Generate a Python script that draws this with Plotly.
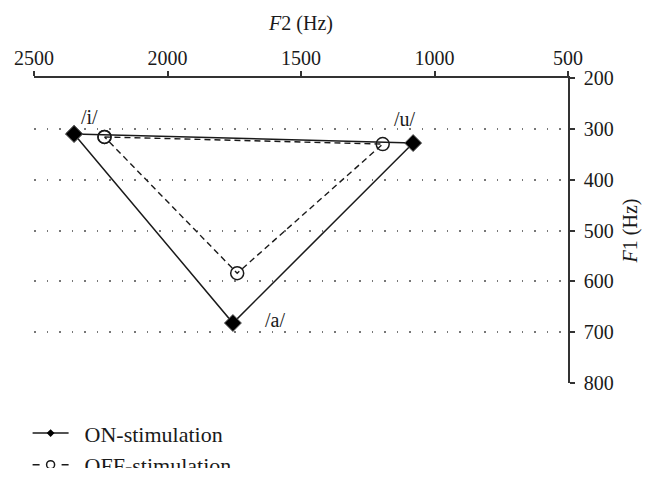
import plotly.graph_objects as go

# ---- data ----
vowels = ["/i/", "/u/", "/a/"]
on_f2 = [2350, 1080, 1755]
on_f1 = [310, 328, 682]
off_f2 = [2236, 1194, 1739]
off_f1 = [316, 330, 584]
x_ticks = [2500, 2000, 1500, 1000, 500]
y_ticks = [200, 300, 400, 500, 600, 700, 800]
series_names = ["ON-stimulation", "OFF-stimulation"]

FONT = "'Liberation Serif', 'Times New Roman', 'DejaVu Serif', serif"
INK = "#1a1a1a"

def closed(a):
    return list(a) + [a[0]]

fig = go.Figure()

fig.add_trace(go.Scatter(
    x=closed(off_f2), y=closed(off_f1), mode="lines+markers",
    line=dict(color=INK, width=1.4, dash="6px,4px"),
    marker=dict(symbol="circle-open", size=13, color=INK, line=dict(width=1.5, color=INK)),
    showlegend=False, hoverinfo="skip"))

fig.add_trace(go.Scatter(
    x=closed(on_f2), y=closed(on_f1), mode="lines+markers",
    line=dict(color=INK, width=1.5),
    marker=dict(symbol="diamond", size=13, color="#000", line=dict(width=1, color="#555")),
    showlegend=False, hoverinfo="skip"))

# legend-only entries (smaller symbols as in the reference)
PAD = "&nbsp;&nbsp;"
fig.add_trace(go.Scatter(
    x=[None], y=[None], mode="lines+markers", name=PAD + series_names[0],
    line=dict(color=INK, width=1.5),
    marker=dict(symbol="diamond", size=6, color="#000")))
fig.add_trace(go.Scatter(
    x=[None], y=[None], mode="lines+markers", name=PAD + series_names[1],
    line=dict(color=INK, width=1.5, dash="7px,22px"),
    marker=dict(symbol="circle-open", size=8, color=INK, line=dict(width=1.5, color=INK))))

# vowel labels
label_shift = {"/i/": (15, 17), "/u/": (-8, 24), "/a/": (42, 3)}
for v, xv, yv in zip(vowels, on_f2, on_f1):
    dx, dy = label_shift[v]
    fig.add_annotation(x=xv, y=yv, xref="x", yref="y", text=v, showarrow=False,
                       xshift=dx, yshift=dy, font=dict(family=FONT, size=20, color=INK))

fig.update_layout(
    width=650, height=460,
    margin=dict(l=25.5, r=90, t=70, b=85, autoexpand=False),
    paper_bgcolor="white", plot_bgcolor="white",
    font=dict(family=FONT, size=20, color=INK),
    showlegend=True,
    legend=dict(x=-0.012, y=-0.096, xanchor="left", yanchor="top",
                bgcolor="rgba(0,0,0,0)", font=dict(family=FONT, size=22, color=INK),
                itemwidth=36, tracegroupgap=0),
    xaxis=dict(
        side="top", range=[2500, 500], tickvals=x_ticks, ticktext=[str(t) for t in x_ticks],
        showgrid=False, zeroline=False, showline=True, linecolor="#333", linewidth=1.5,
        ticks="outside", ticklen=5, tickwidth=1.5, tickcolor="#333",
        ticklabelstandoff=-2,
        title=dict(text="<i>F</i>2 (Hz)", standoff=11, font=dict(family=FONT, size=20, color=INK)),
    ),
    yaxis=dict(
        side="right", range=[800, 200], tickvals=y_ticks, ticktext=[str(t) for t in y_ticks],
        showgrid=True, gridcolor="#777", gridwidth=1.5, griddash="1.5px,11px",
        zeroline=False, showline=True, linecolor="#333", linewidth=1.5,
        ticks="outside", ticklen=5, tickwidth=1.5, tickcolor="#333",
        ticklabelstandoff=5,
        title=dict(text="<i>F</i>1 (Hz)", standoff=10, font=dict(family=FONT, size=20, color=INK)),
    ),
)

fig.write_html("out.html")
